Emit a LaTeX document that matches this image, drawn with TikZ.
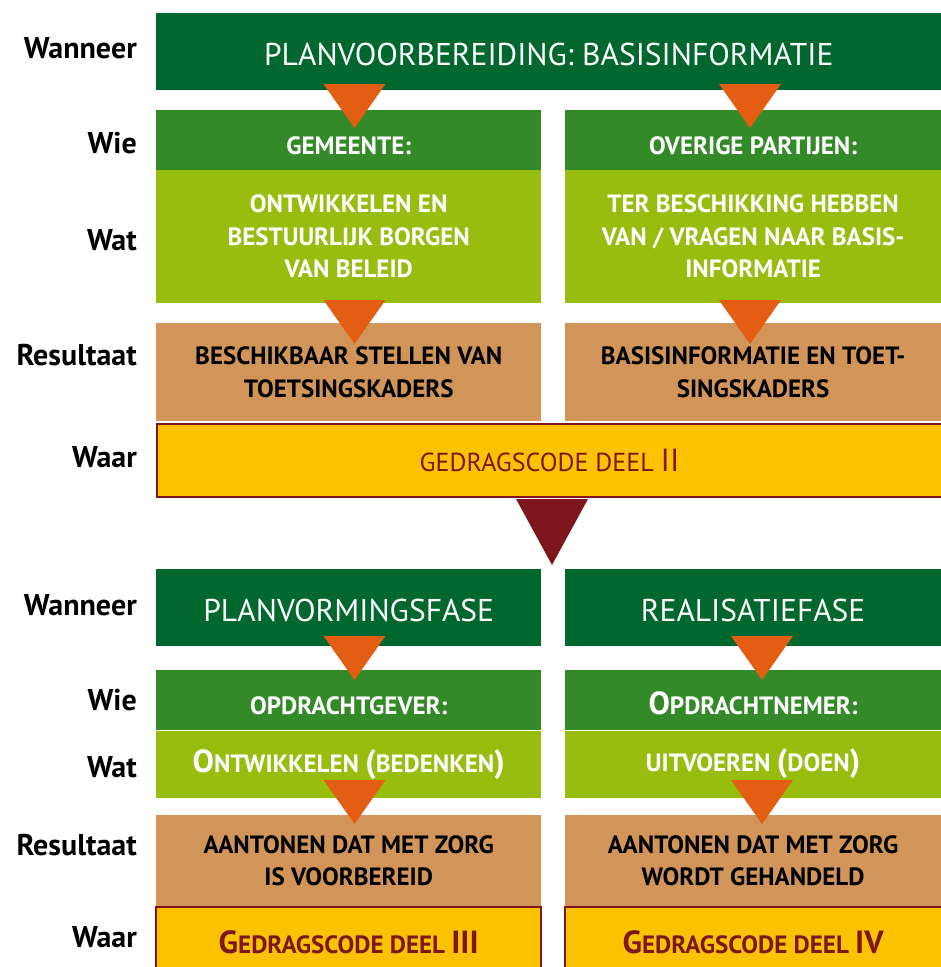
\documentclass[tikz,border=0pt]{standalone}
\usepackage{fontspec}
\setmainfont{PT Sans}
\usetikzlibrary{positioning}
\definecolor{gcDonker}{RGB}{0,104,47}
\definecolor{gcMidden}{RGB}{52,138,40}
\definecolor{gcLicht}{RGB}{151,189,14}
\definecolor{gcBruin}{RGB}{209,149,90}
\definecolor{gcGeel}{RGB}{251,194,0}
\definecolor{gcRood}{RGB}{125,23,29}
\definecolor{gcOranje}{RGB}{227,94,18}
% groter eerste teken (nagebootste kleinkapitalen)
\newcommand{\grootl}[1]{{\fontsize{32}{32}\selectfont #1}}
% oranje driehoek: midden x, bovenkant y
\newcommand{\pijl}[2]{\fill[gcOranje] (#1-31,#2) -- (#1+31,#2) -- (#1,#2+44) -- cycle;}

\begin{document}
\begin{tikzpicture}[
    x=1pt, y=-1pt,
    vak/.style={inner sep=0pt, align=center},
    links/.style={minimum width=385pt},
    rechts/.style={minimum width=377pt},
    wanneer/.style={vak, fill=gcDonker, text=white, minimum height=77pt,
      text height=28pt, text depth=0pt, font=\fontsize{31.5}{34}\selectfont},
    wie/.style={vak, fill=gcMidden, text=white, minimum height=60pt,
      text height=29pt, text depth=0pt, font=\bfseries\fontsize{25}{28}\selectfont},
    wat/.style={vak, fill=gcLicht, text=white,
      font=\bfseries\fontsize{25}{32.5}\selectfont},
    resultaat/.style={vak, fill=gcBruin, text=black,
      font=\bfseries\fontsize{25}{32.5}\selectfont},
    waar/.style={vak, fill=gcGeel, draw=gcRood, line width=2pt, text=gcRood,
      font=\fontsize{26}{30}\selectfont},
    rij/.style={inner sep=0pt, anchor=east, font=\bfseries\fontsize{30}{30}\selectfont}
  ]
    \useasboundingbox (0,0) rectangle (941,967);
    % bovenste deel
    \node[wanneer, minimum width=785pt, anchor=north west] (titel) at (156,13)
      {PLANVOORBEREIDING: BASISINFORMATIE};
    \node[wie, links, below right=19pt and 0pt of titel.south west] (wieA) {GEMEENTE:};
    \node[wie, rechts, right=23pt of wieA] (wieB) {OVERIGE PARTIJEN:};
    \node[wat, links, minimum height=133pt, below=0pt of wieA] (watA)
      {ONTWIKKELEN EN\\BESTUURLIJK BORGEN\\VAN BELEID};
    \node[wat, rechts, minimum height=133pt, below=0pt of wieB] (watB)
      {TER BESCHIKKING HEBBEN\\VAN / VRAGEN NAAR BASIS-\\INFORMATIE};
    \node[resultaat, links, minimum height=98pt, below=20pt of watA] (resA)
      {BESCHIKBAAR STELLEN VAN\\TOETSINGSKADERS};
    \node[resultaat, rechts, minimum height=98pt, below=20pt of watB] (resB)
      {BASISINFORMATIE EN TOET-\\SINGSKADERS};
    \node[waar, minimum width=785pt, minimum height=73pt,
      below right=1pt and 0pt of resA.south west] (waarA)
      {GEDRAGSCODE DEEL \grootl{II}};
    % onderste deel
    \node[wanneer, links, below right=71pt and 0pt of waarA.south west] (wanC)
      {PLANVORMINGSFASE};
    \node[wanneer, rechts, right=23pt of wanC] (wanD) {REALISATIEFASE};
    \node[wie, links, below=24pt of wanC] (wieC) {OPDRACHTGEVER:};
    \node[wie, rechts, below=24pt of wanD] (wieD) {\grootl{O}PDRACHTNEMER:};
    \node[wat, links, minimum height=67pt, below=0pt of wieC] (watC)
      {\grootl{O}NTWIKKELEN \grootl{(}BEDENKEN\grootl{)}};
    \node[wat, rechts, minimum height=67pt, below=0pt of wieD] (watD)
      {UITVOEREN \grootl{(}DOEN\grootl{)}};
    \node[resultaat, links, minimum height=91pt, below=17pt of watC] (resC)
      {AANTONEN DAT MET ZORG\\IS VOORBEREID};
    \node[resultaat, rechts, minimum height=91pt, below=17pt of watD] (resD)
      {AANTONEN DAT MET ZORG\\WORDT GEHANDELD};
    \node[waar, links, minimum height=70pt, below=0pt of resC, font=\bfseries\fontsize{25}{30}\selectfont] (waarC)
      {\grootl{G}EDRAGSCODE DEEL \grootl{III}};
    \node[waar, rechts, minimum height=70pt, below=0pt of resD, font=\bfseries\fontsize{25}{30}\selectfont] (waarD)
      {\grootl{G}EDRAGSCODE DEEL \grootl{IV}};
    % rijlabels
    \node[rij] (l1) at (137,48) {Wanneer};
    \node[rij] (l2) at (137,143) {Wie};
    \node[rij] (l3) at (137,240) {Wat};
    \node[rij] (l4) at (137,355) {Resultaat};
    \node[rij] (l5) at (137,457) {Waar};
    \node[rij] (l6) at (137,605) {Wanneer};
    \node[rij] (l7) at (137,700) {Wie};
    \node[rij] (l8) at (137,767) {Wat};
    \node[rij] (l9) at (137,845) {Resultaat};
    \node[rij] (l10) at (137,937) {Waar};
    % driehoeken
    \pijl{354.5}{84}
    \pijl{750}{84}
    \pijl{354.5}{300}
    \pijl{750}{300}
    \pijl{354.5}{636}
    \pijl{762}{636}
    \pijl{354.5}{780}
    \pijl{762}{780}
    \fill[gcRood] (516,499) -- (588,499) -- (552,565) -- cycle;
  \end{tikzpicture}
\end{document}
